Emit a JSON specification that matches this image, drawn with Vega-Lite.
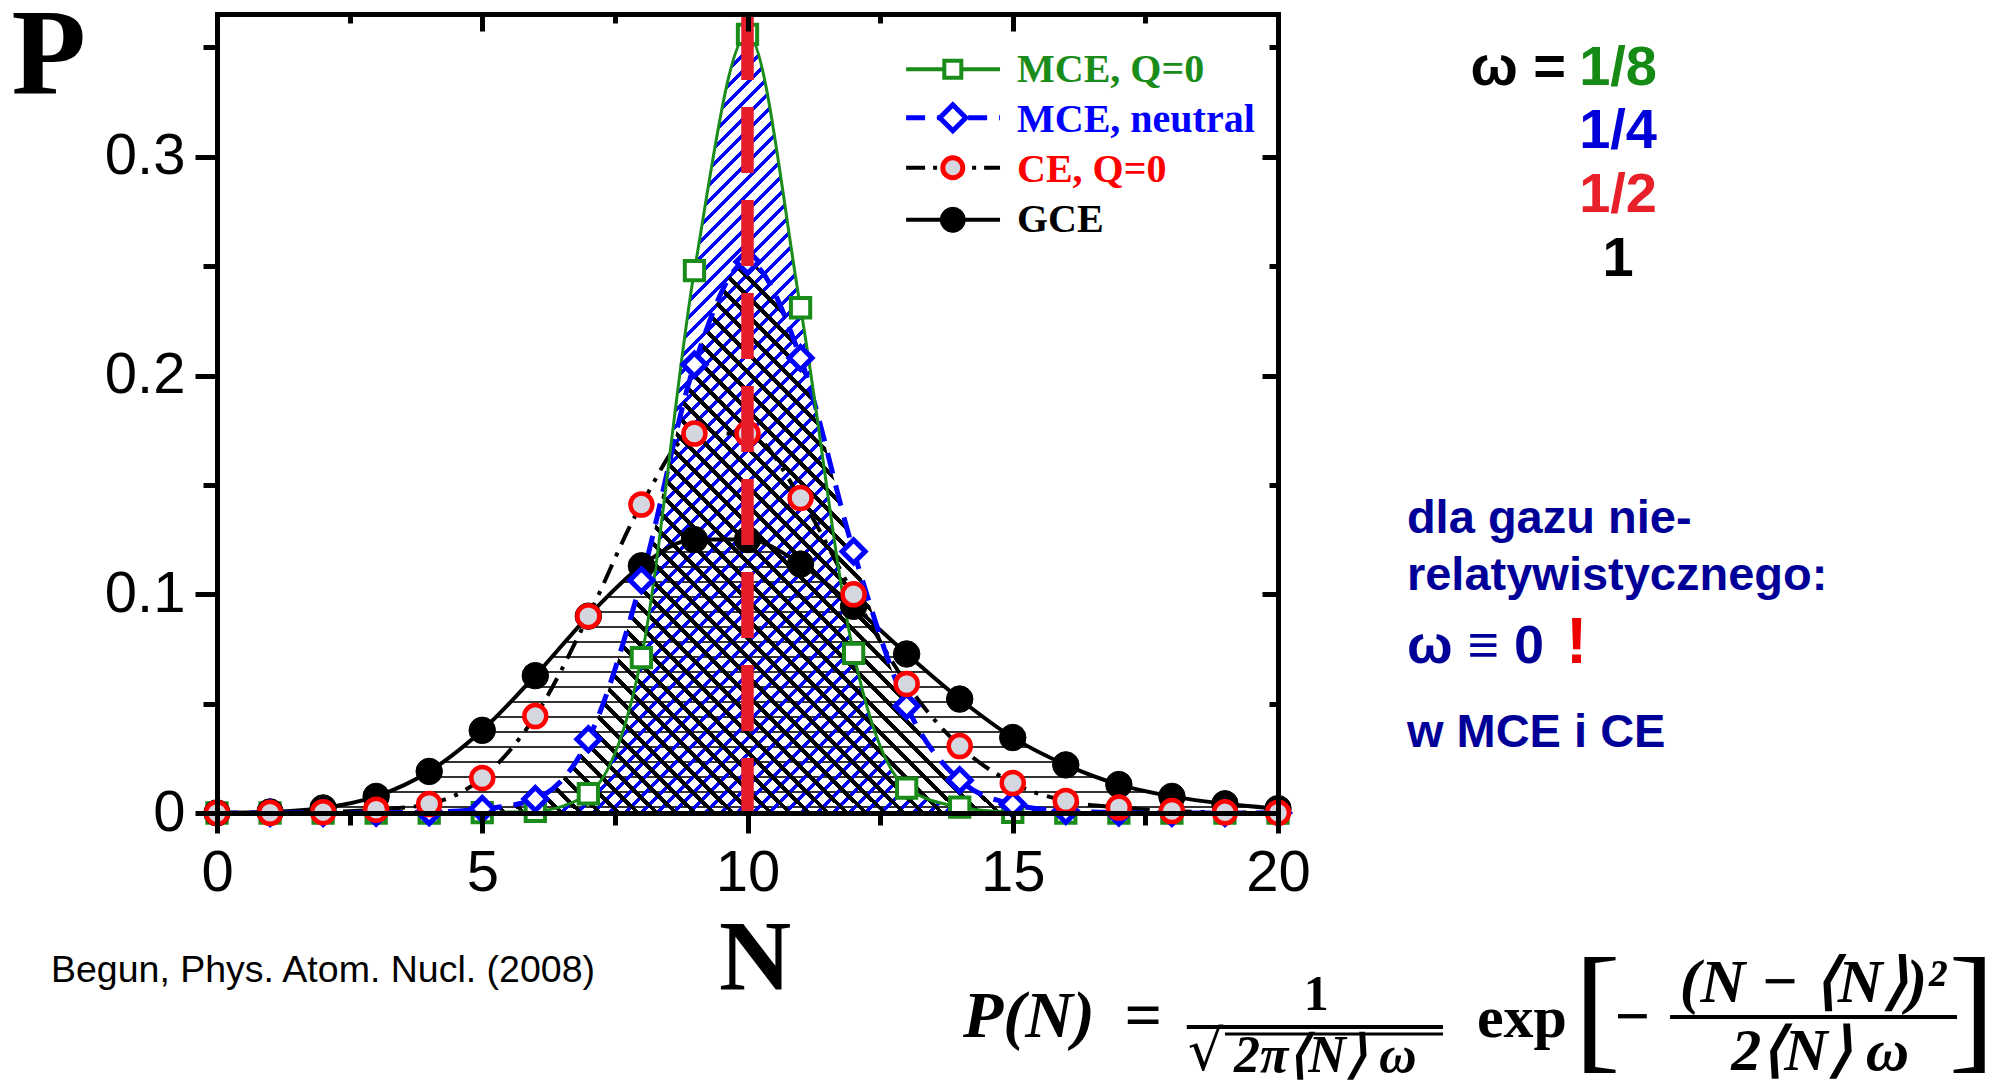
{
  "$schema": "https://vega.github.io/schema/vega-lite/v6.json",
  "autosize": {"type": "none"},
  "padding": {"left": 217, "top": 14, "right": 717, "bottom": 270},
  "width": 1061,
  "height": 799,
  "background": "white",
  "config": {"view": {"stroke": null}, "axis": {"grid": false}},
  "datasets": {
    "ens": [
      {"series": "GCE", "N": 0, "P": 0.00005}, {"series": "GCE", "N": 1, "P": 0.0005}, {"series": "GCE", "N": 2, "P": 0.0023},
      {"series": "GCE", "N": 3, "P": 0.0076}, {"series": "GCE", "N": 4, "P": 0.019}, {"series": "GCE", "N": 5, "P": 0.0378},
      {"series": "GCE", "N": 6, "P": 0.0628}, {"series": "GCE", "N": 7, "P": 0.09}, {"series": "GCE", "N": 8, "P": 0.113},
      {"series": "GCE", "N": 9, "P": 0.125}, {"series": "GCE", "N": 10, "P": 0.125}, {"series": "GCE", "N": 11, "P": 0.1138},
      {"series": "GCE", "N": 12, "P": 0.0945}, {"series": "GCE", "N": 13, "P": 0.0727}, {"series": "GCE", "N": 14, "P": 0.0521},
      {"series": "GCE", "N": 15, "P": 0.0345}, {"series": "GCE", "N": 16, "P": 0.022}, {"series": "GCE", "N": 17, "P": 0.013},
      {"series": "GCE", "N": 18, "P": 0.0076}, {"series": "GCE", "N": 19, "P": 0.0042}, {"series": "GCE", "N": 20, "P": 0.002},
      {"series": "CE, Q=0", "N": 0, "P": 0.0}, {"series": "CE, Q=0", "N": 1, "P": 0.0001}, {"series": "CE, Q=0", "N": 2, "P": 0.0004},
      {"series": "CE, Q=0", "N": 3, "P": 0.0015}, {"series": "CE, Q=0", "N": 4, "P": 0.0041}, {"series": "CE, Q=0", "N": 5, "P": 0.016},
      {"series": "CE, Q=0", "N": 6, "P": 0.0443}, {"series": "CE, Q=0", "N": 7, "P": 0.09}, {"series": "CE, Q=0", "N": 8, "P": 0.141},
      {"series": "CE, Q=0", "N": 9, "P": 0.1735}, {"series": "CE, Q=0", "N": 10, "P": 0.1735}, {"series": "CE, Q=0", "N": 11, "P": 0.144},
      {"series": "CE, Q=0", "N": 12, "P": 0.1}, {"series": "CE, Q=0", "N": 13, "P": 0.059}, {"series": "CE, Q=0", "N": 14, "P": 0.0306},
      {"series": "CE, Q=0", "N": 15, "P": 0.0137}, {"series": "CE, Q=0", "N": 16, "P": 0.0055}, {"series": "CE, Q=0", "N": 17, "P": 0.0025},
      {"series": "CE, Q=0", "N": 18, "P": 0.0009}, {"series": "CE, Q=0", "N": 19, "P": 0.0003}, {"series": "CE, Q=0", "N": 20, "P": 0.0001},
      {"series": "MCE, neutral", "N": 0, "P": 0.0}, {"series": "MCE, neutral", "N": 1, "P": 0.0}, {"series": "MCE, neutral", "N": 2, "P": 0.0},
      {"series": "MCE, neutral", "N": 3, "P": 0.0001}, {"series": "MCE, neutral", "N": 4, "P": 0.0004}, {"series": "MCE, neutral", "N": 5, "P": 0.0018},
      {"series": "MCE, neutral", "N": 6, "P": 0.0064}, {"series": "MCE, neutral", "N": 7, "P": 0.0337}, {"series": "MCE, neutral", "N": 8, "P": 0.1064},
      {"series": "MCE, neutral", "N": 9, "P": 0.205}, {"series": "MCE, neutral", "N": 10, "P": 0.252}, {"series": "MCE, neutral", "N": 11, "P": 0.208},
      {"series": "MCE, neutral", "N": 12, "P": 0.1196}, {"series": "MCE, neutral", "N": 13, "P": 0.0489}, {"series": "MCE, neutral", "N": 14, "P": 0.015},
      {"series": "MCE, neutral", "N": 15, "P": 0.004}, {"series": "MCE, neutral", "N": 16, "P": 0.0009}, {"series": "MCE, neutral", "N": 17, "P": 0.0002},
      {"series": "MCE, neutral", "N": 18, "P": 0.0}, {"series": "MCE, neutral", "N": 19, "P": 0.0}, {"series": "MCE, neutral", "N": 20, "P": 0.0},
      {"series": "MCE, Q=0", "N": 0, "P": 0.0}, {"series": "MCE, Q=0", "N": 1, "P": 0.0}, {"series": "MCE, Q=0", "N": 2, "P": 0.0},
      {"series": "MCE, Q=0", "N": 3, "P": 0.0}, {"series": "MCE, Q=0", "N": 4, "P": 0.0}, {"series": "MCE, Q=0", "N": 5, "P": 0.0002},
      {"series": "MCE, Q=0", "N": 6, "P": 0.0008}, {"series": "MCE, Q=0", "N": 7, "P": 0.0088}, {"series": "MCE, Q=0", "N": 8, "P": 0.071},
      {"series": "MCE, Q=0", "N": 9, "P": 0.248}, {"series": "MCE, Q=0", "N": 10, "P": 0.356}, {"series": "MCE, Q=0", "N": 11, "P": 0.231},
      {"series": "MCE, Q=0", "N": 12, "P": 0.073}, {"series": "MCE, Q=0", "N": 13, "P": 0.0114}, {"series": "MCE, Q=0", "N": 14, "P": 0.0027},
      {"series": "MCE, Q=0", "N": 15, "P": 0.0003}, {"series": "MCE, Q=0", "N": 16, "P": 0.0}, {"series": "MCE, Q=0", "N": 17, "P": 0.0},
      {"series": "MCE, Q=0", "N": 18, "P": 0.0}, {"series": "MCE, Q=0", "N": 19, "P": 0.0}, {"series": "MCE, Q=0", "N": 20, "P": 0.0}
    ]
  },
  "layer": [
    {
      "data": {"name": "ens"},
      "transform": [{"filter": {"field": "series", "equal": "GCE"}}],
      "mark": {
        "type": "area", "interpolate": "monotone", "opacity": 1,
        "fill": {
          "gradient": "linear", "x1": 0, "y1": 1.03292, "x2": 0, "y2": -0.06437,
          "stops": [
            {"offset": 0.047, "color": "transparent"}, {"offset": 0.047, "color": "#333"}, {"offset": 0.053, "color": "#333"}, {"offset": 0.053, "color": "transparent"},
            {"offset": 0.097, "color": "transparent"}, {"offset": 0.097, "color": "#333"}, {"offset": 0.103, "color": "#333"}, {"offset": 0.103, "color": "transparent"},
            {"offset": 0.147, "color": "transparent"}, {"offset": 0.147, "color": "#333"}, {"offset": 0.153, "color": "#333"}, {"offset": 0.153, "color": "transparent"},
            {"offset": 0.197, "color": "transparent"}, {"offset": 0.197, "color": "#333"}, {"offset": 0.203, "color": "#333"}, {"offset": 0.203, "color": "transparent"},
            {"offset": 0.247, "color": "transparent"}, {"offset": 0.247, "color": "#333"}, {"offset": 0.253, "color": "#333"}, {"offset": 0.253, "color": "transparent"},
            {"offset": 0.297, "color": "transparent"}, {"offset": 0.297, "color": "#333"}, {"offset": 0.303, "color": "#333"}, {"offset": 0.303, "color": "transparent"},
            {"offset": 0.347, "color": "transparent"}, {"offset": 0.347, "color": "#333"}, {"offset": 0.353, "color": "#333"}, {"offset": 0.353, "color": "transparent"},
            {"offset": 0.397, "color": "transparent"}, {"offset": 0.397, "color": "#333"}, {"offset": 0.403, "color": "#333"}, {"offset": 0.403, "color": "transparent"},
            {"offset": 0.447, "color": "transparent"}, {"offset": 0.447, "color": "#333"}, {"offset": 0.453, "color": "#333"}, {"offset": 0.453, "color": "transparent"},
            {"offset": 0.497, "color": "transparent"}, {"offset": 0.497, "color": "#333"}, {"offset": 0.503, "color": "#333"}, {"offset": 0.503, "color": "transparent"},
            {"offset": 0.547, "color": "transparent"}, {"offset": 0.547, "color": "#333"}, {"offset": 0.553, "color": "#333"}, {"offset": 0.553, "color": "transparent"},
            {"offset": 0.597, "color": "transparent"}, {"offset": 0.597, "color": "#333"}, {"offset": 0.603, "color": "#333"}, {"offset": 0.603, "color": "transparent"},
            {"offset": 0.647, "color": "transparent"}, {"offset": 0.647, "color": "#333"}, {"offset": 0.653, "color": "#333"}, {"offset": 0.653, "color": "transparent"},
            {"offset": 0.697, "color": "transparent"}, {"offset": 0.697, "color": "#333"}, {"offset": 0.703, "color": "#333"}, {"offset": 0.703, "color": "transparent"},
            {"offset": 0.747, "color": "transparent"}, {"offset": 0.747, "color": "#333"}, {"offset": 0.753, "color": "#333"}, {"offset": 0.753, "color": "transparent"},
            {"offset": 0.797, "color": "transparent"}, {"offset": 0.797, "color": "#333"}, {"offset": 0.803, "color": "#333"}, {"offset": 0.803, "color": "transparent"},
            {"offset": 0.847, "color": "transparent"}, {"offset": 0.847, "color": "#333"}, {"offset": 0.853, "color": "#333"}, {"offset": 0.853, "color": "transparent"},
            {"offset": 0.897, "color": "transparent"}, {"offset": 0.897, "color": "#333"}, {"offset": 0.903, "color": "#333"}, {"offset": 0.903, "color": "transparent"}
          ]
        }
      },
      "encoding": {
        "x": {"field": "N", "type": "quantitative", "scale": {"domain": [0, 20], "nice": false},
          "axis": {"orient": "bottom", "values": [0, 5, 10, 15, 20], "format": "~g", "tickSize": 20, "tickWidth": 5, "tickColor": "#000",
            "domain": true, "domainWidth": 5, "domainColor": "#000", "domainCap": "square",
            "labelFont": "Liberation Sans", "labelFontSize": 58, "labelColor": "#000", "labelPadding": 11, "labelFlush": false, "labelOverlap": false, "labelBound": false,
            "title": "N", "titleFont": "Liberation Serif", "titleFontSize": 100, "titleFontWeight": "bold", "titleColor": "#000",
            "titleX": 537.5, "titleY": 175, "titleAlign": "center", "titleBaseline": "alphabetic", "zindex": 1}},
        "y": {"field": "P", "type": "quantitative", "scale": {"domain": [0, 0.3653], "nice": false},
          "axis": {"orient": "left", "values": [0, 0.1, 0.2, 0.3], "format": "~g", "tickSize": 22, "tickWidth": 5, "tickColor": "#000",
            "domain": true, "domainWidth": 5, "domainColor": "#000", "domainCap": "square",
            "labelFont": "Liberation Sans", "labelFontSize": 58, "labelColor": "#000", "labelPadding": 10, "labelOverlap": false, "labelBound": false,
            "title": "P", "titleFont": "Liberation Serif", "titleFontSize": 122, "titleFontWeight": "bold", "titleColor": "#000",
            "titleAngle": 0, "titleAlign": "left", "titleBaseline": "alphabetic", "titleX": -206, "titleY": 79, "zindex": 1}}
      }
    },
    {
      "data": {"name": "ens"},
      "transform": [{"filter": {"field": "series", "equal": "MCE, Q=0"}}],
      "mark": {
        "type": "area", "interpolate": "monotone", "opacity": 1,
        "fill": {
          "gradient": "linear", "x1": 0, "y1": 0, "x2": 0.98017, "y2": 0.71929,
          "stops": [
            {"offset": 0.32, "color": "transparent"}, {"offset": 0.32, "color": "#00f"}, {"offset": 0.3235, "color": "#00f"}, {"offset": 0.3235, "color": "transparent"},
            {"offset": 0.33, "color": "transparent"}, {"offset": 0.33, "color": "#00f"}, {"offset": 0.3335, "color": "#00f"}, {"offset": 0.3335, "color": "transparent"},
            {"offset": 0.34, "color": "transparent"}, {"offset": 0.34, "color": "#00f"}, {"offset": 0.3435, "color": "#00f"}, {"offset": 0.3435, "color": "transparent"},
            {"offset": 0.35, "color": "transparent"}, {"offset": 0.35, "color": "#00f"}, {"offset": 0.3535, "color": "#00f"}, {"offset": 0.3535, "color": "transparent"},
            {"offset": 0.36, "color": "transparent"}, {"offset": 0.36, "color": "#00f"}, {"offset": 0.3635, "color": "#00f"}, {"offset": 0.3635, "color": "transparent"},
            {"offset": 0.37, "color": "transparent"}, {"offset": 0.37, "color": "#00f"}, {"offset": 0.3735, "color": "#00f"}, {"offset": 0.3735, "color": "transparent"},
            {"offset": 0.38, "color": "transparent"}, {"offset": 0.38, "color": "#00f"}, {"offset": 0.3835, "color": "#00f"}, {"offset": 0.3835, "color": "transparent"},
            {"offset": 0.39, "color": "transparent"}, {"offset": 0.39, "color": "#00f"}, {"offset": 0.3935, "color": "#00f"}, {"offset": 0.3935, "color": "transparent"},
            {"offset": 0.40, "color": "transparent"}, {"offset": 0.40, "color": "#00f"}, {"offset": 0.4035, "color": "#00f"}, {"offset": 0.4035, "color": "transparent"},
            {"offset": 0.41, "color": "transparent"}, {"offset": 0.41, "color": "#00f"}, {"offset": 0.4135, "color": "#00f"}, {"offset": 0.4135, "color": "transparent"},
            {"offset": 0.42, "color": "transparent"}, {"offset": 0.42, "color": "#00f"}, {"offset": 0.4235, "color": "#00f"}, {"offset": 0.4235, "color": "transparent"},
            {"offset": 0.43, "color": "transparent"}, {"offset": 0.43, "color": "#00f"}, {"offset": 0.4335, "color": "#00f"}, {"offset": 0.4335, "color": "transparent"},
            {"offset": 0.44, "color": "transparent"}, {"offset": 0.44, "color": "#00f"}, {"offset": 0.4435, "color": "#00f"}, {"offset": 0.4435, "color": "transparent"},
            {"offset": 0.45, "color": "transparent"}, {"offset": 0.45, "color": "#00f"}, {"offset": 0.4535, "color": "#00f"}, {"offset": 0.4535, "color": "transparent"},
            {"offset": 0.46, "color": "transparent"}, {"offset": 0.46, "color": "#00f"}, {"offset": 0.4635, "color": "#00f"}, {"offset": 0.4635, "color": "transparent"},
            {"offset": 0.47, "color": "transparent"}, {"offset": 0.47, "color": "#00f"}, {"offset": 0.4735, "color": "#00f"}, {"offset": 0.4735, "color": "transparent"},
            {"offset": 0.48, "color": "transparent"}, {"offset": 0.48, "color": "#00f"}, {"offset": 0.4835, "color": "#00f"}, {"offset": 0.4835, "color": "transparent"},
            {"offset": 0.49, "color": "transparent"}, {"offset": 0.49, "color": "#00f"}, {"offset": 0.4935, "color": "#00f"}, {"offset": 0.4935, "color": "transparent"},
            {"offset": 0.50, "color": "transparent"}, {"offset": 0.50, "color": "#00f"}, {"offset": 0.5035, "color": "#00f"}, {"offset": 0.5035, "color": "transparent"},
            {"offset": 0.51, "color": "transparent"}, {"offset": 0.51, "color": "#00f"}, {"offset": 0.5135, "color": "#00f"}, {"offset": 0.5135, "color": "transparent"},
            {"offset": 0.52, "color": "transparent"}, {"offset": 0.52, "color": "#00f"}, {"offset": 0.5235, "color": "#00f"}, {"offset": 0.5235, "color": "transparent"},
            {"offset": 0.53, "color": "transparent"}, {"offset": 0.53, "color": "#00f"}, {"offset": 0.5335, "color": "#00f"}, {"offset": 0.5335, "color": "transparent"},
            {"offset": 0.54, "color": "transparent"}, {"offset": 0.54, "color": "#00f"}, {"offset": 0.5435, "color": "#00f"}, {"offset": 0.5435, "color": "transparent"},
            {"offset": 0.55, "color": "transparent"}, {"offset": 0.55, "color": "#00f"}, {"offset": 0.5535, "color": "#00f"}, {"offset": 0.5535, "color": "transparent"},
            {"offset": 0.56, "color": "transparent"}, {"offset": 0.56, "color": "#00f"}, {"offset": 0.5635, "color": "#00f"}, {"offset": 0.5635, "color": "transparent"},
            {"offset": 0.57, "color": "transparent"}, {"offset": 0.57, "color": "#00f"}, {"offset": 0.5735, "color": "#00f"}, {"offset": 0.5735, "color": "transparent"},
            {"offset": 0.58, "color": "transparent"}, {"offset": 0.58, "color": "#00f"}, {"offset": 0.5835, "color": "#00f"}, {"offset": 0.5835, "color": "transparent"},
            {"offset": 0.59, "color": "transparent"}, {"offset": 0.59, "color": "#00f"}, {"offset": 0.5935, "color": "#00f"}, {"offset": 0.5935, "color": "transparent"},
            {"offset": 0.60, "color": "transparent"}, {"offset": 0.60, "color": "#00f"}, {"offset": 0.6035, "color": "#00f"}, {"offset": 0.6035, "color": "transparent"},
            {"offset": 0.61, "color": "transparent"}, {"offset": 0.61, "color": "#00f"}, {"offset": 0.6135, "color": "#00f"}, {"offset": 0.6135, "color": "transparent"},
            {"offset": 0.62, "color": "transparent"}, {"offset": 0.62, "color": "#00f"}, {"offset": 0.6235, "color": "#00f"}, {"offset": 0.6235, "color": "transparent"},
            {"offset": 0.63, "color": "transparent"}, {"offset": 0.63, "color": "#00f"}, {"offset": 0.6335, "color": "#00f"}, {"offset": 0.6335, "color": "transparent"},
            {"offset": 0.64, "color": "transparent"}, {"offset": 0.64, "color": "#00f"}, {"offset": 0.6435, "color": "#00f"}, {"offset": 0.6435, "color": "transparent"},
            {"offset": 0.65, "color": "transparent"}, {"offset": 0.65, "color": "#00f"}, {"offset": 0.6535, "color": "#00f"}, {"offset": 0.6535, "color": "transparent"},
            {"offset": 0.66, "color": "transparent"}, {"offset": 0.66, "color": "#00f"}, {"offset": 0.6635, "color": "#00f"}, {"offset": 0.6635, "color": "transparent"},
            {"offset": 0.67, "color": "transparent"}, {"offset": 0.67, "color": "#00f"}, {"offset": 0.6735, "color": "#00f"}, {"offset": 0.6735, "color": "transparent"},
            {"offset": 0.68, "color": "transparent"}, {"offset": 0.68, "color": "#00f"}, {"offset": 0.6835, "color": "#00f"}, {"offset": 0.6835, "color": "transparent"},
            {"offset": 0.69, "color": "transparent"}, {"offset": 0.69, "color": "#00f"}, {"offset": 0.6935, "color": "#00f"}, {"offset": 0.6935, "color": "transparent"},
            {"offset": 0.70, "color": "transparent"}, {"offset": 0.70, "color": "#00f"}, {"offset": 0.7035, "color": "#00f"}, {"offset": 0.7035, "color": "transparent"},
            {"offset": 0.71, "color": "transparent"}, {"offset": 0.71, "color": "#00f"}, {"offset": 0.7135, "color": "#00f"}, {"offset": 0.7135, "color": "transparent"},
            {"offset": 0.72, "color": "transparent"}, {"offset": 0.72, "color": "#00f"}, {"offset": 0.7235, "color": "#00f"}, {"offset": 0.7235, "color": "transparent"},
            {"offset": 0.73, "color": "transparent"}, {"offset": 0.73, "color": "#00f"}, {"offset": 0.7335, "color": "#00f"}, {"offset": 0.7335, "color": "transparent"},
            {"offset": 0.74, "color": "transparent"}, {"offset": 0.74, "color": "#00f"}, {"offset": 0.7435, "color": "#00f"}, {"offset": 0.7435, "color": "transparent"},
            {"offset": 0.75, "color": "transparent"}, {"offset": 0.75, "color": "#00f"}, {"offset": 0.7535, "color": "#00f"}, {"offset": 0.7535, "color": "transparent"},
            {"offset": 0.76, "color": "transparent"}, {"offset": 0.76, "color": "#00f"}, {"offset": 0.7635, "color": "#00f"}, {"offset": 0.7635, "color": "transparent"},
            {"offset": 0.77, "color": "transparent"}, {"offset": 0.77, "color": "#00f"}, {"offset": 0.7735, "color": "#00f"}, {"offset": 0.7735, "color": "transparent"},
            {"offset": 0.78, "color": "transparent"}, {"offset": 0.78, "color": "#00f"}, {"offset": 0.7835, "color": "#00f"}, {"offset": 0.7835, "color": "transparent"},
            {"offset": 0.79, "color": "transparent"}, {"offset": 0.79, "color": "#00f"}, {"offset": 0.7935, "color": "#00f"}, {"offset": 0.7935, "color": "transparent"},
            {"offset": 0.80, "color": "transparent"}, {"offset": 0.80, "color": "#00f"}, {"offset": 0.8035, "color": "#00f"}, {"offset": 0.8035, "color": "transparent"},
            {"offset": 0.81, "color": "transparent"}, {"offset": 0.81, "color": "#00f"}, {"offset": 0.8135, "color": "#00f"}, {"offset": 0.8135, "color": "transparent"},
            {"offset": 0.82, "color": "transparent"}, {"offset": 0.82, "color": "#00f"}, {"offset": 0.8235, "color": "#00f"}, {"offset": 0.8235, "color": "transparent"},
            {"offset": 0.83, "color": "transparent"}, {"offset": 0.83, "color": "#00f"}, {"offset": 0.8335, "color": "#00f"}, {"offset": 0.8335, "color": "transparent"},
            {"offset": 0.84, "color": "transparent"}, {"offset": 0.84, "color": "#00f"}, {"offset": 0.8435, "color": "#00f"}, {"offset": 0.8435, "color": "transparent"},
            {"offset": 0.85, "color": "transparent"}, {"offset": 0.85, "color": "#00f"}, {"offset": 0.8535, "color": "#00f"}, {"offset": 0.8535, "color": "transparent"},
            {"offset": 0.86, "color": "transparent"}, {"offset": 0.86, "color": "#00f"}, {"offset": 0.8635, "color": "#00f"}, {"offset": 0.8635, "color": "transparent"},
            {"offset": 0.87, "color": "transparent"}, {"offset": 0.87, "color": "#00f"}, {"offset": 0.8735, "color": "#00f"}, {"offset": 0.8735, "color": "transparent"},
            {"offset": 0.88, "color": "transparent"}, {"offset": 0.88, "color": "#00f"}, {"offset": 0.8835, "color": "#00f"}, {"offset": 0.8835, "color": "transparent"},
            {"offset": 0.89, "color": "transparent"}, {"offset": 0.89, "color": "#00f"}, {"offset": 0.8935, "color": "#00f"}, {"offset": 0.8935, "color": "transparent"},
            {"offset": 0.90, "color": "transparent"}, {"offset": 0.90, "color": "#00f"}, {"offset": 0.9035, "color": "#00f"}, {"offset": 0.9035, "color": "transparent"},
            {"offset": 0.91, "color": "transparent"}, {"offset": 0.91, "color": "#00f"}, {"offset": 0.9135, "color": "#00f"}, {"offset": 0.9135, "color": "transparent"},
            {"offset": 0.92, "color": "transparent"}, {"offset": 0.92, "color": "#00f"}, {"offset": 0.9235, "color": "#00f"}, {"offset": 0.9235, "color": "transparent"},
            {"offset": 0.93, "color": "transparent"}, {"offset": 0.93, "color": "#00f"}, {"offset": 0.9335, "color": "#00f"}, {"offset": 0.9335, "color": "transparent"},
            {"offset": 0.94, "color": "transparent"}, {"offset": 0.94, "color": "#00f"}, {"offset": 0.9435, "color": "#00f"}, {"offset": 0.9435, "color": "transparent"},
            {"offset": 0.95, "color": "transparent"}, {"offset": 0.95, "color": "#00f"}, {"offset": 0.9535, "color": "#00f"}, {"offset": 0.9535, "color": "transparent"},
            {"offset": 0.96, "color": "transparent"}, {"offset": 0.96, "color": "#00f"}, {"offset": 0.9635, "color": "#00f"}, {"offset": 0.9635, "color": "transparent"}
          ]
        }
      },
      "encoding": {
        "x": {"field": "N", "type": "quantitative", "scale": {"domain": [0, 20], "nice": false},
          "axis": {"orient": "bottom", "values": [2.5, 7.5, 12.5, 17.5], "tickSize": 12, "tickWidth": 5, "tickColor": "#000", "domain": false, "labels": false, "title": null, "zindex": 1}},
        "y": {"field": "P", "type": "quantitative", "scale": {"domain": [0, 0.3653], "nice": false},
          "axis": {"orient": "left", "values": [0.05, 0.15, 0.25, 0.35], "tickSize": 14, "tickWidth": 5, "tickColor": "#000", "domain": false, "labels": false, "title": null, "zindex": 1}}
      }
    },
    {
      "data": {"name": "ens"},
      "transform": [{"filter": {"field": "series", "equal": "MCE, neutral"}}],
      "mark": {
        "type": "area", "interpolate": "monotone", "opacity": 1,
        "fill": {
          "gradient": "linear", "x1": 0, "y1": 1, "x2": 1.41017, "y2": 0.2674,
          "stops": [
            {"offset": 0.15, "color": "transparent"}, {"offset": 0.15, "color": "#000"}, {"offset": 0.153, "color": "#000"}, {"offset": 0.153, "color": "transparent"},
            {"offset": 0.16, "color": "transparent"}, {"offset": 0.16, "color": "#000"}, {"offset": 0.163, "color": "#000"}, {"offset": 0.163, "color": "transparent"},
            {"offset": 0.17, "color": "transparent"}, {"offset": 0.17, "color": "#000"}, {"offset": 0.173, "color": "#000"}, {"offset": 0.173, "color": "transparent"},
            {"offset": 0.18, "color": "transparent"}, {"offset": 0.18, "color": "#000"}, {"offset": 0.183, "color": "#000"}, {"offset": 0.183, "color": "transparent"},
            {"offset": 0.19, "color": "transparent"}, {"offset": 0.19, "color": "#000"}, {"offset": 0.193, "color": "#000"}, {"offset": 0.193, "color": "transparent"},
            {"offset": 0.20, "color": "transparent"}, {"offset": 0.20, "color": "#000"}, {"offset": 0.203, "color": "#000"}, {"offset": 0.203, "color": "transparent"},
            {"offset": 0.21, "color": "transparent"}, {"offset": 0.21, "color": "#000"}, {"offset": 0.213, "color": "#000"}, {"offset": 0.213, "color": "transparent"},
            {"offset": 0.22, "color": "transparent"}, {"offset": 0.22, "color": "#000"}, {"offset": 0.223, "color": "#000"}, {"offset": 0.223, "color": "transparent"},
            {"offset": 0.23, "color": "transparent"}, {"offset": 0.23, "color": "#000"}, {"offset": 0.233, "color": "#000"}, {"offset": 0.233, "color": "transparent"},
            {"offset": 0.24, "color": "transparent"}, {"offset": 0.24, "color": "#000"}, {"offset": 0.243, "color": "#000"}, {"offset": 0.243, "color": "transparent"},
            {"offset": 0.25, "color": "transparent"}, {"offset": 0.25, "color": "#000"}, {"offset": 0.253, "color": "#000"}, {"offset": 0.253, "color": "transparent"},
            {"offset": 0.26, "color": "transparent"}, {"offset": 0.26, "color": "#000"}, {"offset": 0.263, "color": "#000"}, {"offset": 0.263, "color": "transparent"},
            {"offset": 0.27, "color": "transparent"}, {"offset": 0.27, "color": "#000"}, {"offset": 0.273, "color": "#000"}, {"offset": 0.273, "color": "transparent"},
            {"offset": 0.28, "color": "transparent"}, {"offset": 0.28, "color": "#000"}, {"offset": 0.283, "color": "#000"}, {"offset": 0.283, "color": "transparent"},
            {"offset": 0.29, "color": "transparent"}, {"offset": 0.29, "color": "#000"}, {"offset": 0.293, "color": "#000"}, {"offset": 0.293, "color": "transparent"},
            {"offset": 0.30, "color": "transparent"}, {"offset": 0.30, "color": "#000"}, {"offset": 0.303, "color": "#000"}, {"offset": 0.303, "color": "transparent"},
            {"offset": 0.31, "color": "transparent"}, {"offset": 0.31, "color": "#000"}, {"offset": 0.313, "color": "#000"}, {"offset": 0.313, "color": "transparent"},
            {"offset": 0.32, "color": "transparent"}, {"offset": 0.32, "color": "#000"}, {"offset": 0.323, "color": "#000"}, {"offset": 0.323, "color": "transparent"},
            {"offset": 0.33, "color": "transparent"}, {"offset": 0.33, "color": "#000"}, {"offset": 0.333, "color": "#000"}, {"offset": 0.333, "color": "transparent"},
            {"offset": 0.34, "color": "transparent"}, {"offset": 0.34, "color": "#000"}, {"offset": 0.343, "color": "#000"}, {"offset": 0.343, "color": "transparent"},
            {"offset": 0.35, "color": "transparent"}, {"offset": 0.35, "color": "#000"}, {"offset": 0.353, "color": "#000"}, {"offset": 0.353, "color": "transparent"},
            {"offset": 0.36, "color": "transparent"}, {"offset": 0.36, "color": "#000"}, {"offset": 0.363, "color": "#000"}, {"offset": 0.363, "color": "transparent"},
            {"offset": 0.37, "color": "transparent"}, {"offset": 0.37, "color": "#000"}, {"offset": 0.373, "color": "#000"}, {"offset": 0.373, "color": "transparent"},
            {"offset": 0.38, "color": "transparent"}, {"offset": 0.38, "color": "#000"}, {"offset": 0.383, "color": "#000"}, {"offset": 0.383, "color": "transparent"},
            {"offset": 0.39, "color": "transparent"}, {"offset": 0.39, "color": "#000"}, {"offset": 0.393, "color": "#000"}, {"offset": 0.393, "color": "transparent"},
            {"offset": 0.40, "color": "transparent"}, {"offset": 0.40, "color": "#000"}, {"offset": 0.403, "color": "#000"}, {"offset": 0.403, "color": "transparent"},
            {"offset": 0.41, "color": "transparent"}, {"offset": 0.41, "color": "#000"}, {"offset": 0.413, "color": "#000"}, {"offset": 0.413, "color": "transparent"},
            {"offset": 0.42, "color": "transparent"}, {"offset": 0.42, "color": "#000"}, {"offset": 0.423, "color": "#000"}, {"offset": 0.423, "color": "transparent"},
            {"offset": 0.43, "color": "transparent"}, {"offset": 0.43, "color": "#000"}, {"offset": 0.433, "color": "#000"}, {"offset": 0.433, "color": "transparent"},
            {"offset": 0.44, "color": "transparent"}, {"offset": 0.44, "color": "#000"}, {"offset": 0.443, "color": "#000"}, {"offset": 0.443, "color": "transparent"},
            {"offset": 0.45, "color": "transparent"}, {"offset": 0.45, "color": "#000"}, {"offset": 0.453, "color": "#000"}, {"offset": 0.453, "color": "transparent"},
            {"offset": 0.46, "color": "transparent"}, {"offset": 0.46, "color": "#000"}, {"offset": 0.463, "color": "#000"}, {"offset": 0.463, "color": "transparent"},
            {"offset": 0.47, "color": "transparent"}, {"offset": 0.47, "color": "#000"}, {"offset": 0.473, "color": "#000"}, {"offset": 0.473, "color": "transparent"},
            {"offset": 0.48, "color": "transparent"}, {"offset": 0.48, "color": "#000"}, {"offset": 0.483, "color": "#000"}, {"offset": 0.483, "color": "transparent"},
            {"offset": 0.49, "color": "transparent"}, {"offset": 0.49, "color": "#000"}, {"offset": 0.493, "color": "#000"}, {"offset": 0.493, "color": "transparent"},
            {"offset": 0.50, "color": "transparent"}, {"offset": 0.50, "color": "#000"}, {"offset": 0.503, "color": "#000"}, {"offset": 0.503, "color": "transparent"},
            {"offset": 0.51, "color": "transparent"}, {"offset": 0.51, "color": "#000"}, {"offset": 0.513, "color": "#000"}, {"offset": 0.513, "color": "transparent"},
            {"offset": 0.52, "color": "transparent"}, {"offset": 0.52, "color": "#000"}, {"offset": 0.523, "color": "#000"}, {"offset": 0.523, "color": "transparent"},
            {"offset": 0.53, "color": "transparent"}, {"offset": 0.53, "color": "#000"}, {"offset": 0.533, "color": "#000"}, {"offset": 0.533, "color": "transparent"},
            {"offset": 0.54, "color": "transparent"}, {"offset": 0.54, "color": "#000"}, {"offset": 0.543, "color": "#000"}, {"offset": 0.543, "color": "transparent"},
            {"offset": 0.55, "color": "transparent"}, {"offset": 0.55, "color": "#000"}, {"offset": 0.553, "color": "#000"}, {"offset": 0.553, "color": "transparent"},
            {"offset": 0.56, "color": "transparent"}, {"offset": 0.56, "color": "#000"}, {"offset": 0.563, "color": "#000"}, {"offset": 0.563, "color": "transparent"},
            {"offset": 0.57, "color": "transparent"}, {"offset": 0.57, "color": "#000"}, {"offset": 0.573, "color": "#000"}, {"offset": 0.573, "color": "transparent"},
            {"offset": 0.58, "color": "transparent"}, {"offset": 0.58, "color": "#000"}, {"offset": 0.583, "color": "#000"}, {"offset": 0.583, "color": "transparent"}
          ]
        }
      },
      "encoding": {
        "x": {"field": "N", "type": "quantitative", "scale": {"domain": [0, 20], "nice": false},
          "axis": {"orient": "top", "values": [0, 5, 10, 15, 20], "tickSize": -17, "tickWidth": 5, "tickColor": "#000", "domain": true, "domainWidth": 5, "domainColor": "#000", "domainCap": "square", "labels": false, "title": null, "zindex": 1}},
        "y": {"field": "P", "type": "quantitative", "scale": {"domain": [0, 0.3653], "nice": false},
          "axis": {"orient": "right", "values": [0, 0.1, 0.2, 0.3], "tickSize": -16, "tickWidth": 5, "tickColor": "#000", "domain": true, "domainWidth": 5, "domainColor": "#000", "domainCap": "square", "labels": false, "title": null, "zindex": 1}}
      }
    },
    {
      "data": {"name": "ens"},
      "transform": [{"filter": {"field": "series", "equal": "GCE"}}],
      "mark": {"type": "line", "interpolate": "monotone", "color": "#000", "strokeWidth": 4},
      "encoding": {
        "x": {"field": "N", "type": "quantitative", "scale": {"domain": [0, 20], "nice": false},
          "axis": {"orient": "top", "values": [2.5, 7.5, 12.5, 17.5], "tickSize": -9, "tickWidth": 5, "tickColor": "#000", "domain": false, "labels": false, "title": null, "zindex": 1}},
        "y": {"field": "P", "type": "quantitative", "scale": {"domain": [0, 0.3653], "nice": false},
          "axis": {"orient": "right", "values": [0.05, 0.15, 0.25, 0.35], "tickSize": -9, "tickWidth": 5, "tickColor": "#000", "domain": false, "labels": false, "title": null, "zindex": 1}}
      }
    },
    {
      "data": {"name": "ens"},
      "transform": [{"filter": {"field": "series", "equal": "CE, Q=0"}}],
      "mark": {"type": "line", "interpolate": "monotone", "color": "#000", "strokeWidth": 4, "strokeDash": [20, 9, 4, 9]},
      "encoding": {
        "x": {"field": "N", "type": "quantitative", "scale": {"domain": [0, 20], "nice": false}, "axis": null},
        "y": {"field": "P", "type": "quantitative", "scale": {"domain": [0, 0.3653], "nice": false}, "axis": null}
      }
    },
    {
      "data": {"name": "ens"},
      "transform": [{"filter": {"field": "series", "equal": "MCE, neutral"}}],
      "mark": {"type": "line", "interpolate": "monotone", "color": "#0000ff", "strokeWidth": 5, "strokeDash": [21, 12]},
      "encoding": {
        "x": {"field": "N", "type": "quantitative", "scale": {"domain": [0, 20], "nice": false}, "axis": null},
        "y": {"field": "P", "type": "quantitative", "scale": {"domain": [0, 0.3653], "nice": false}, "axis": null}
      }
    },
    {
      "data": {"name": "ens"},
      "transform": [{"filter": {"field": "series", "equal": "MCE, Q=0"}}],
      "mark": {"type": "line", "interpolate": "monotone", "color": "#1a8c1a", "strokeWidth": 3},
      "encoding": {
        "x": {"field": "N", "type": "quantitative", "scale": {"domain": [0, 20], "nice": false}, "axis": null},
        "y": {"field": "P", "type": "quantitative", "scale": {"domain": [0, 0.3653], "nice": false}, "axis": null}
      }
    },
    {
      "data": {"name": "ens"},
      "transform": [{"filter": {"field": "series", "equal": "MCE, Q=0"}}],
      "mark": {"type": "point", "shape": "square", "size": 372, "filled": true, "fill": "#ffffff", "stroke": "#1a8c1a", "strokeWidth": 4, "opacity": 1},
      "encoding": {
        "x": {"field": "N", "type": "quantitative", "scale": {"domain": [0, 20], "nice": false}, "axis": null},
        "y": {"field": "P", "type": "quantitative", "scale": {"domain": [0, 0.3653], "nice": false}, "axis": null}
      }
    },
    {
      "data": {"name": "ens"},
      "transform": [{"filter": {"field": "series", "equal": "GCE"}}],
      "mark": {"type": "point", "shape": "circle", "size": 700, "filled": true, "fill": "#000", "stroke": "#000", "strokeWidth": 1, "opacity": 1},
      "encoding": {
        "x": {"field": "N", "type": "quantitative", "scale": {"domain": [0, 20], "nice": false}, "axis": null},
        "y": {"field": "P", "type": "quantitative", "scale": {"domain": [0, 0.3653], "nice": false}, "axis": null}
      }
    },
    {
      "data": {"name": "ens"},
      "transform": [{"filter": {"field": "series", "equal": "MCE, neutral"}}],
      "mark": {"type": "point", "shape": "diamond", "size": 529, "filled": true, "fill": "#ffffff", "stroke": "#0000ff", "strokeWidth": 5, "opacity": 1},
      "encoding": {
        "x": {"field": "N", "type": "quantitative", "scale": {"domain": [0, 20], "nice": false}, "axis": null},
        "y": {"field": "P", "type": "quantitative", "scale": {"domain": [0, 0.3653], "nice": false}, "axis": null}
      }
    },
    {
      "data": {"name": "ens"},
      "transform": [{"filter": {"field": "series", "equal": "CE, Q=0"}}],
      "mark": {"type": "point", "shape": "circle", "size": 484, "filled": true, "fill": "#d4d6e0", "stroke": "#ff0000", "strokeWidth": 4.5, "opacity": 1},
      "encoding": {
        "x": {"field": "N", "type": "quantitative", "scale": {"domain": [0, 20], "nice": false}, "axis": null},
        "y": {"field": "P", "type": "quantitative", "scale": {"domain": [0, 0.3653], "nice": false}, "axis": null}
      }
    },
    {
      "data": {"values": [{"N": 10}]},
      "mark": {"type": "rule", "color": "#e51c2a", "strokeWidth": 12.5, "strokeDash": [66, 27]},
      "encoding": {
        "x": {"field": "N", "type": "quantitative", "scale": {"domain": [0, 20], "nice": false}, "axis": null}
      }
    },
    {
      "data": {"values": [{"label": "MCE, Q=0"}]},
      "layer": [
        {"mark": {"type": "rule", "color": "#1a8c1a", "strokeWidth": 4},
         "encoding": {"x": {"datum": 12.99, "type": "quantitative", "scale": {"domain": [0, 20], "nice": false}, "axis": null}, "x2": {"datum": 14.76}, "y": {"datum": 0.34, "type": "quantitative", "scale": {"domain": [0, 0.3653], "nice": false}, "axis": null}}},
        {"mark": {"type": "point", "shape": "square", "size": 289, "filled": true, "fill": "#ffffff", "stroke": "#1a8c1a", "strokeWidth": 4, "opacity": 1},
         "encoding": {"x": {"datum": 13.87, "type": "quantitative", "scale": {"domain": [0, 20], "nice": false}, "axis": null}, "y": {"datum": 0.34, "type": "quantitative", "scale": {"domain": [0, 0.3653], "nice": false}, "axis": null}}},
        {"mark": {"type": "text", "font": "Liberation Serif", "fontSize": 40, "fontWeight": "bold", "color": "#1a8c1a", "align": "left", "baseline": "alphabetic"},
         "encoding": {"x": {"datum": 15.08, "type": "quantitative", "scale": {"domain": [0, 20], "nice": false}, "axis": null}, "y": {"datum": 0.3344, "type": "quantitative", "scale": {"domain": [0, 0.3653], "nice": false}, "axis": null}, "text": {"field": "label"}}}
      ]
    },
    {
      "data": {"values": [{"label": "MCE, neutral"}]},
      "layer": [
        {"mark": {"type": "rule", "color": "#0000ff", "strokeWidth": 5, "strokeDash": [19, 12]},
         "encoding": {"x": {"datum": 12.99, "type": "quantitative", "scale": {"domain": [0, 20], "nice": false}, "axis": null}, "x2": {"datum": 14.76}, "y": {"datum": 0.3179, "type": "quantitative", "scale": {"domain": [0, 0.3653], "nice": false}, "axis": null}}},
        {"mark": {"type": "point", "shape": "diamond", "size": 676, "filled": true, "fill": "#ffffff", "stroke": "#0000ff", "strokeWidth": 5, "opacity": 1},
         "encoding": {"x": {"datum": 13.87, "type": "quantitative", "scale": {"domain": [0, 20], "nice": false}, "axis": null}, "y": {"datum": 0.3179, "type": "quantitative", "scale": {"domain": [0, 0.3653], "nice": false}, "axis": null}}},
        {"mark": {"type": "text", "font": "Liberation Serif", "fontSize": 40, "fontWeight": "bold", "color": "#0000ff", "align": "left", "baseline": "alphabetic"},
         "encoding": {"x": {"datum": 15.08, "type": "quantitative", "scale": {"domain": [0, 20], "nice": false}, "axis": null}, "y": {"datum": 0.3115, "type": "quantitative", "scale": {"domain": [0, 0.3653], "nice": false}, "axis": null}, "text": {"field": "label"}}}
      ]
    },
    {
      "data": {"values": [{"label": "CE, Q=0"}]},
      "layer": [
        {"mark": {"type": "rule", "color": "#000", "strokeWidth": 4, "strokeDash": [19, 8, 4, 8]},
         "encoding": {"x": {"datum": 12.99, "type": "quantitative", "scale": {"domain": [0, 20], "nice": false}, "axis": null}, "x2": {"datum": 14.76}, "y": {"datum": 0.295, "type": "quantitative", "scale": {"domain": [0, 0.3653], "nice": false}, "axis": null}}},
        {"mark": {"type": "point", "shape": "circle", "size": 400, "filled": true, "fill": "#d4d6e0", "stroke": "#ff0000", "strokeWidth": 5, "opacity": 1},
         "encoding": {"x": {"datum": 13.87, "type": "quantitative", "scale": {"domain": [0, 20], "nice": false}, "axis": null}, "y": {"datum": 0.295, "type": "quantitative", "scale": {"domain": [0, 0.3653], "nice": false}, "axis": null}}},
        {"mark": {"type": "text", "font": "Liberation Serif", "fontSize": 40, "fontWeight": "bold", "color": "#ff0000", "align": "left", "baseline": "alphabetic"},
         "encoding": {"x": {"datum": 15.08, "type": "quantitative", "scale": {"domain": [0, 20], "nice": false}, "axis": null}, "y": {"datum": 0.2886, "type": "quantitative", "scale": {"domain": [0, 0.3653], "nice": false}, "axis": null}, "text": {"field": "label"}}}
      ]
    },
    {
      "data": {"values": [{"label": "GCE"}]},
      "layer": [
        {"mark": {"type": "rule", "color": "#000", "strokeWidth": 4},
         "encoding": {"x": {"datum": 12.99, "type": "quantitative", "scale": {"domain": [0, 20], "nice": false}, "axis": null}, "x2": {"datum": 14.76}, "y": {"datum": 0.2712, "type": "quantitative", "scale": {"domain": [0, 0.3653], "nice": false}, "axis": null}}},
        {"mark": {"type": "point", "shape": "circle", "size": 625, "filled": true, "fill": "#000", "stroke": "#000", "strokeWidth": 1, "opacity": 1},
         "encoding": {"x": {"datum": 13.87, "type": "quantitative", "scale": {"domain": [0, 20], "nice": false}, "axis": null}, "y": {"datum": 0.2712, "type": "quantitative", "scale": {"domain": [0, 0.3653], "nice": false}, "axis": null}}},
        {"mark": {"type": "text", "font": "Liberation Serif", "fontSize": 40, "fontWeight": "bold", "color": "#000", "align": "left", "baseline": "alphabetic"},
         "encoding": {"x": {"datum": 15.08, "type": "quantitative", "scale": {"domain": [0, 20], "nice": false}, "axis": null}, "y": {"datum": 0.2658, "type": "quantitative", "scale": {"domain": [0, 0.3653], "nice": false}, "axis": null}, "text": {"field": "label"}}}
      ]
    },
    {
      "data": {"values": [{"label": "ω ="}]},
      "mark": {"type": "text", "font": "Liberation Sans", "fontSize": 56, "fontWeight": "bold", "color": "#000", "align": "right", "baseline": "alphabetic"},
      "encoding": {"x": {"datum": 25.43, "type": "quantitative", "scale": {"domain": [0, 20], "nice": false}, "axis": null}, "y": {"datum": 0.3328, "type": "quantitative", "scale": {"domain": [0, 0.3653], "nice": false}, "axis": null}, "text": {"field": "label"}}
    },
    {
      "data": {"values": [{"label": "1/8"}]},
      "mark": {"type": "text", "font": "Liberation Sans", "fontSize": 56, "fontWeight": "bold", "color": "#158a15", "align": "center", "baseline": "alphabetic"},
      "encoding": {"x": {"datum": 26.41, "type": "quantitative", "scale": {"domain": [0, 20], "nice": false}, "axis": null}, "y": {"datum": 0.3328, "type": "quantitative", "scale": {"domain": [0, 0.3653], "nice": false}, "axis": null}, "text": {"field": "label"}}
    },
    {
      "data": {"values": [{"label": "1/4"}]},
      "mark": {"type": "text", "font": "Liberation Sans", "fontSize": 56, "fontWeight": "bold", "color": "#0000d8", "align": "center", "baseline": "alphabetic"},
      "encoding": {"x": {"datum": 26.41, "type": "quantitative", "scale": {"domain": [0, 20], "nice": false}, "axis": null}, "y": {"datum": 0.304, "type": "quantitative", "scale": {"domain": [0, 0.3653], "nice": false}, "axis": null}, "text": {"field": "label"}}
    },
    {
      "data": {"values": [{"label": "1/2"}]},
      "mark": {"type": "text", "font": "Liberation Sans", "fontSize": 56, "fontWeight": "bold", "color": "#e8202a", "align": "center", "baseline": "alphabetic"},
      "encoding": {"x": {"datum": 26.41, "type": "quantitative", "scale": {"domain": [0, 20], "nice": false}, "axis": null}, "y": {"datum": 0.2748, "type": "quantitative", "scale": {"domain": [0, 0.3653], "nice": false}, "axis": null}, "text": {"field": "label"}}
    },
    {
      "data": {"values": [{"label": "1"}]},
      "mark": {"type": "text", "font": "Liberation Sans", "fontSize": 56, "fontWeight": "bold", "color": "#000", "align": "center", "baseline": "alphabetic"},
      "encoding": {"x": {"datum": 26.41, "type": "quantitative", "scale": {"domain": [0, 20], "nice": false}, "axis": null}, "y": {"datum": 0.2455, "type": "quantitative", "scale": {"domain": [0, 0.3653], "nice": false}, "axis": null}, "text": {"field": "label"}}
    },
    {
      "data": {"values": [{"label": "dla gazu nie-"}]},
      "mark": {"type": "text", "font": "Liberation Sans", "fontSize": 47, "fontWeight": "bold", "color": "#000099", "align": "left", "baseline": "alphabetic"},
      "encoding": {"x": {"datum": 22.43, "type": "quantitative", "scale": {"domain": [0, 20], "nice": false}, "axis": null}, "y": {"datum": 0.128, "type": "quantitative", "scale": {"domain": [0, 0.3653], "nice": false}, "axis": null}, "text": {"field": "label"}}
    },
    {
      "data": {"values": [{"label": "relatywistycznego:"}]},
      "mark": {"type": "text", "font": "Liberation Sans", "fontSize": 47, "fontWeight": "bold", "color": "#000099", "align": "left", "baseline": "alphabetic"},
      "encoding": {"x": {"datum": 22.43, "type": "quantitative", "scale": {"domain": [0, 20], "nice": false}, "axis": null}, "y": {"datum": 0.102, "type": "quantitative", "scale": {"domain": [0, 0.3653], "nice": false}, "axis": null}, "text": {"field": "label"}}
    },
    {
      "data": {"values": [{"label": "ω ≡ 0"}]},
      "mark": {"type": "text", "font": "Liberation Sans", "fontSize": 54, "fontWeight": "bold", "color": "#000099", "align": "left", "baseline": "alphabetic"},
      "encoding": {"x": {"datum": 22.43, "type": "quantitative", "scale": {"domain": [0, 20], "nice": false}, "axis": null}, "y": {"datum": 0.0686, "type": "quantitative", "scale": {"domain": [0, 0.3653], "nice": false}, "axis": null}, "text": {"field": "label"}}
    },
    {
      "data": {"values": [{"label": "!"}]},
      "mark": {"type": "text", "font": "Liberation Sans", "fontSize": 64, "fontWeight": "bold", "color": "#ee0000", "align": "left", "baseline": "alphabetic"},
      "encoding": {"x": {"datum": 25.43, "type": "quantitative", "scale": {"domain": [0, 20], "nice": false}, "axis": null}, "y": {"datum": 0.0686, "type": "quantitative", "scale": {"domain": [0, 0.3653], "nice": false}, "axis": null}, "text": {"field": "label"}}
    },
    {
      "data": {"values": [{"label": "w MCE i CE"}]},
      "mark": {"type": "text", "font": "Liberation Sans", "fontSize": 47, "fontWeight": "bold", "color": "#000099", "align": "left", "baseline": "alphabetic"},
      "encoding": {"x": {"datum": 22.43, "type": "quantitative", "scale": {"domain": [0, 20], "nice": false}, "axis": null}, "y": {"datum": 0.0302, "type": "quantitative", "scale": {"domain": [0, 0.3653], "nice": false}, "axis": null}, "text": {"field": "label"}}
    },
    {
      "data": {"values": [{"label": "Begun, Phys. Atom. Nucl. (2008)"}]},
      "mark": {"type": "text", "font": "Liberation Sans", "fontSize": 37.5, "color": "#000", "align": "left", "baseline": "alphabetic"},
      "encoding": {"x": {"datum": -3.13, "type": "quantitative", "scale": {"domain": [0, 20], "nice": false}, "axis": null}, "y": {"datum": -0.0773, "type": "quantitative", "scale": {"domain": [0, 0.3653], "nice": false}, "axis": null}, "text": {"field": "label"}}
    },
    {
      "data": {"values": [{"label": "P(N)"}]},
      "mark": {"type": "text", "font": "Liberation Serif", "fontSize": 66, "fontWeight": "bold", "fontStyle": "italic", "color": "#000", "align": "left", "baseline": "alphabetic"},
      "encoding": {"x": {"datum": 14.06, "type": "quantitative", "scale": {"domain": [0, 20], "nice": false}, "axis": null}, "y": {"datum": -0.1024, "type": "quantitative", "scale": {"domain": [0, 0.3653], "nice": false}, "axis": null}, "text": {"field": "label"}}
    },
    {
      "data": {"values": [{"label": "="}]},
      "mark": {"type": "text", "font": "Liberation Serif", "fontSize": 66, "fontWeight": "bold", "color": "#000", "align": "center", "baseline": "alphabetic"},
      "encoding": {"x": {"datum": 17.46, "type": "quantitative", "scale": {"domain": [0, 20], "nice": false}, "axis": null}, "y": {"datum": -0.1024, "type": "quantitative", "scale": {"domain": [0, 0.3653], "nice": false}, "axis": null}, "text": {"field": "label"}}
    },
    {
      "data": {"values": [{"label": "1"}]},
      "mark": {"type": "text", "font": "Liberation Serif", "fontSize": 50, "fontWeight": "bold", "color": "#000", "align": "center", "baseline": "alphabetic"},
      "encoding": {"x": {"datum": 20.72, "type": "quantitative", "scale": {"domain": [0, 20], "nice": false}, "axis": null}, "y": {"datum": -0.0901, "type": "quantitative", "scale": {"domain": [0, 0.3653], "nice": false}, "axis": null}, "text": {"field": "label"}}
    },
    {
      "data": {"values": [{"part": "fraction bar"}]},
      "mark": {"type": "rule", "color": "#000", "strokeWidth": 4},
      "encoding": {"x": {"datum": 18.28, "type": "quantitative", "scale": {"domain": [0, 20], "nice": false}, "axis": null}, "x2": {"datum": 23.11}, "y": {"datum": -0.0978, "type": "quantitative", "scale": {"domain": [0, 0.3653], "nice": false}, "axis": null}}
    },
    {
      "data": {"values": [{"label": "√"}]},
      "mark": {"type": "text", "font": "DejaVu Serif", "fontSize": 56, "color": "#000", "align": "left", "baseline": "alphabetic"},
      "encoding": {"x": {"datum": 18.3, "type": "quantitative", "scale": {"domain": [0, 20], "nice": false}, "axis": null}, "y": {"datum": -0.1175, "type": "quantitative", "scale": {"domain": [0, 0.3653], "nice": false}, "axis": null}, "text": {"field": "label"}}
    },
    {
      "data": {"values": [{"part": "radical bar"}]},
      "mark": {"type": "rule", "color": "#000", "strokeWidth": 3},
      "encoding": {"x": {"datum": 19.0, "type": "quantitative", "scale": {"domain": [0, 20], "nice": false}, "axis": null}, "x2": {"datum": 23.11}, "y": {"datum": -0.101, "type": "quantitative", "scale": {"domain": [0, 0.3653], "nice": false}, "axis": null}}
    },
    {
      "data": {"values": [{"label": "2π⟨N⟩ ω"}]},
      "mark": {"type": "text", "font": "Liberation Serif", "fontSize": 52, "fontWeight": "bold", "fontStyle": "italic", "color": "#000", "align": "left", "baseline": "alphabetic"},
      "encoding": {"x": {"datum": 19.17, "type": "quantitative", "scale": {"domain": [0, 20], "nice": false}, "axis": null}, "y": {"datum": -0.1185, "type": "quantitative", "scale": {"domain": [0, 0.3653], "nice": false}, "axis": null}, "text": {"field": "label"}}
    },
    {
      "data": {"values": [{"label": "exp"}]},
      "mark": {"type": "text", "font": "Liberation Serif", "fontSize": 60, "fontWeight": "bold", "color": "#000", "align": "left", "baseline": "alphabetic"},
      "encoding": {"x": {"datum": 23.75, "type": "quantitative", "scale": {"domain": [0, 20], "nice": false}, "axis": null}, "y": {"datum": -0.1024, "type": "quantitative", "scale": {"domain": [0, 0.3653], "nice": false}, "axis": null}, "text": {"field": "label"}}
    },
    {
      "data": {"values": [{"label": "["}]},
      "mark": {"type": "text", "font": "Liberation Serif", "fontSize": 140, "color": "#000", "align": "left", "baseline": "alphabetic"},
      "encoding": {"x": {"datum": 25.58, "type": "quantitative", "scale": {"domain": [0, 20], "nice": false}, "axis": null}, "y": {"datum": -0.1102, "type": "quantitative", "scale": {"domain": [0, 0.3653], "nice": false}, "axis": null}, "text": {"field": "label"}}
    },
    {
      "data": {"values": [{"label": "−"}]},
      "mark": {"type": "text", "font": "Liberation Serif", "fontSize": 62, "fontWeight": "bold", "color": "#000", "align": "center", "baseline": "alphabetic"},
      "encoding": {"x": {"datum": 26.68, "type": "quantitative", "scale": {"domain": [0, 20], "nice": false}, "axis": null}, "y": {"datum": -0.1024, "type": "quantitative", "scale": {"domain": [0, 0.3653], "nice": false}, "axis": null}, "text": {"field": "label"}}
    },
    {
      "data": {"values": [{"part": "fraction bar"}]},
      "mark": {"type": "rule", "color": "#000", "strokeWidth": 4},
      "encoding": {"x": {"datum": 27.39, "type": "quantitative", "scale": {"domain": [0, 20], "nice": false}, "axis": null}, "x2": {"datum": 32.8}, "y": {"datum": -0.0933, "type": "quantitative", "scale": {"domain": [0, 0.3653], "nice": false}, "axis": null}}
    },
    {
      "data": {"values": [{"label": "(N − ⟨N⟩)²"}]},
      "mark": {"type": "text", "font": "Liberation Serif", "fontSize": 62, "fontWeight": "bold", "fontStyle": "italic", "color": "#000", "align": "center", "baseline": "alphabetic"},
      "encoding": {"x": {"datum": 30.08, "type": "quantitative", "scale": {"domain": [0, 20], "nice": false}, "axis": null}, "y": {"datum": -0.0864, "type": "quantitative", "scale": {"domain": [0, 0.3653], "nice": false}, "axis": null}, "text": {"field": "label"}}
    },
    {
      "data": {"values": [{"label": "2⟨N⟩ ω"}]},
      "mark": {"type": "text", "font": "Liberation Serif", "fontSize": 60, "fontWeight": "bold", "fontStyle": "italic", "color": "#000", "align": "center", "baseline": "alphabetic"},
      "encoding": {"x": {"datum": 30.22, "type": "quantitative", "scale": {"domain": [0, 20], "nice": false}, "axis": null}, "y": {"datum": -0.1175, "type": "quantitative", "scale": {"domain": [0, 0.3653], "nice": false}, "axis": null}, "text": {"field": "label"}}
    },
    {
      "data": {"values": [{"label": "]"}]},
      "mark": {"type": "text", "font": "Liberation Serif", "fontSize": 140, "color": "#000", "align": "left", "baseline": "alphabetic"},
      "encoding": {"x": {"datum": 32.64, "type": "quantitative", "scale": {"domain": [0, 20], "nice": false}, "axis": null}, "y": {"datum": -0.1102, "type": "quantitative", "scale": {"domain": [0, 0.3653], "nice": false}, "axis": null}, "text": {"field": "label"}}
    }
  ],
  "resolve": {"axis": {"x": "independent", "y": "independent"}}
}
